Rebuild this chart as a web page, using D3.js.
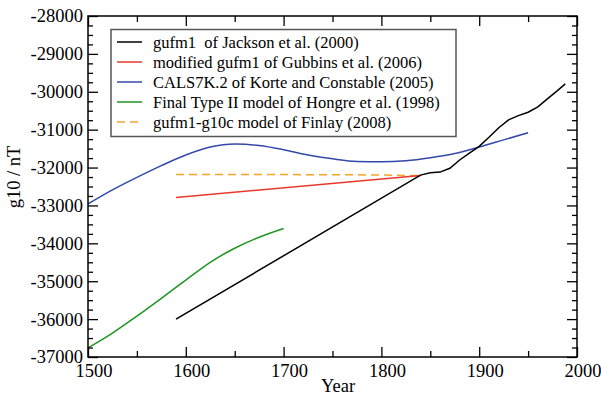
<!DOCTYPE html>
<html>
<head>
<meta charset="utf-8">
<script src="https://cdn.jsdelivr.net/npm/d3@7"></script>
<style>
  body { margin: 0; background: #fff; }
  svg text { font-family: "Liberation Serif", "Times New Roman", serif !important; }
</style>
</head>
<body>
<script>
// g10 estimates from several field models
var jacksonYears = [1590, 1840, 1850, 1860, 1870, 1880, 1890, 1900, 1910, 1920, 1930, 1940, 1950, 1960, 1970, 1980, 1988];
var jacksonG10 = [-36000, -32200, -32140, -32120, -32020, -31800, -31620, -31440, -31200, -30950, -30740, -30630, -30540, -30400, -30180, -29970, -29790];

var gubbinsYears = [1590, 1840];
var gubbinsG10 = [-32790, -32210];

var korteYears = [1500, 1525, 1550, 1575, 1600, 1625, 1650, 1675, 1700, 1725, 1750, 1775, 1800, 1825, 1850, 1875, 1900, 1925, 1950];
var korteG10 = [-32960, -32590, -32260, -31950, -31670, -31460, -31380, -31420, -31530, -31670, -31770, -31840, -31850, -31820, -31740, -31630, -31460, -31270, -31080];

var hongreYears = [1500, 1525, 1550, 1575, 1600, 1625, 1650, 1675, 1700];
var hongreG10 = [-36760, -36370, -35920, -35450, -34970, -34500, -34130, -33840, -33610];

var finlayYears = [1590, 1700, 1800, 1840];
var finlayG10 = [-32180, -32185, -32195, -32215];

var seriesNames = [
  "gufm1  of Jackson et al. (2000)",
  "modified gufm1 of Gubbins et al. (2006)",
  "CALS7K.2 of Korte and Constable (2005)",
  "Final Type II model of Hongre et al. (1998)",
  "gufm1-g10c model of Finlay (2008)"
];
var seriesColors = ["#000000", "#e8392b", "#3349aa", "#1f961f", "#f7a52a"];
var seriesDash = [null, null, null, null, "8,5"];
var seriesCurve = [d3.curveLinear, d3.curveLinear, d3.curveMonotoneX, d3.curveMonotoneX, d3.curveLinear];

var xTicks = [1500, 1600, 1700, 1800, 1900, 2000];
var yTicks = [-28000, -29000, -30000, -31000, -32000, -33000, -34000, -35000, -36000, -37000];

var W = 601, H = 395;
var margin = {left: 88, right: 24, top: 16, bottom: 38};
var serif = "'Liberation Serif', 'Times New Roman', serif";

var svg = d3.select("body").append("svg")
  .attr("width", W).attr("height", H)
  .attr("font-family", serif);

var x = d3.scaleLinear().domain([1500, 2000]).range([margin.left, W - margin.right]);
var y = d3.scaleLinear().domain([-37000, -28000]).range([H - margin.bottom, margin.top]);

var series = [
  d3.zip(jacksonYears, jacksonG10),
  d3.zip(gubbinsYears, gubbinsG10),
  d3.zip(korteYears, korteG10),
  d3.zip(hongreYears, hongreG10),
  d3.zip(finlayYears, finlayG10)
];

// draw order: blue, green, orange, red, black on top
[2, 3, 4, 1, 0].forEach(function(i) {
  var line = d3.line()
    .x(d => x(d[0]))
    .y(d => y(d[1]))
    .curve(seriesCurve[i]);
  svg.append("path")
    .datum(series[i])
    .attr("fill", "none")
    .attr("stroke", seriesColors[i])
    .attr("stroke-width", 1.5)
    .attr("stroke-dasharray", seriesDash[i])
    .attr("d", line);
});

// axes with inward ticks on all four sides
var minorX = d3.range(1550, 2000, 100);
var minorY = d3.range(-37000, -28000, 250).filter(v => v % 1000 != 0);

svg.append("g").attr("transform", "translate(0," + y(-37000) + ")")
  .call(d3.axisBottom(x).tickValues(xTicks).tickFormat(d3.format("d")).tickSize(-10).tickPadding(7))
  .selectAll("text").attr("dx", 5.5);
svg.append("g").attr("transform", "translate(0," + y(-37000) + ")")
  .call(d3.axisBottom(x).tickValues(minorX).tickFormat("").tickSize(-6));
svg.append("g").attr("transform", "translate(0," + y(-28000) + ")")
  .call(d3.axisTop(x).tickValues(xTicks).tickFormat("").tickSize(-10));
svg.append("g").attr("transform", "translate(0," + y(-28000) + ")")
  .call(d3.axisTop(x).tickValues(minorX).tickFormat("").tickSize(-6));

svg.append("g").attr("transform", "translate(" + x(1500) + ",0)")
  .call(d3.axisLeft(y).tickValues(yTicks).tickFormat(d => "-" + Math.abs(d)).tickSize(-10).tickPadding(5));
svg.append("g").attr("transform", "translate(" + x(1500) + ",0)")
  .call(d3.axisLeft(y).tickValues(minorY).tickFormat("").tickSize(-5));
svg.append("g").attr("transform", "translate(" + x(2000) + ",0)")
  .call(d3.axisRight(y).tickValues(yTicks).tickFormat("").tickSize(-10));
svg.append("g").attr("transform", "translate(" + x(2000) + ",0)")
  .call(d3.axisRight(y).tickValues(minorY).tickFormat("").tickSize(-5));

svg.selectAll("g").attr("font-family", serif);
svg.selectAll(".domain").remove();
svg.selectAll(".tick line").attr("stroke", "#000").attr("stroke-width", 1.3);
svg.selectAll(".tick text")
  .attr("fill", "#000")
  .style("font-size", "18.5px");

svg.append("rect")
  .attr("x", x(1500)).attr("y", y(-28000))
  .attr("width", x(2000) - x(1500)).attr("height", y(-37000) - y(-28000))
  .attr("fill", "none").attr("stroke", "#000").attr("stroke-width", 1.5);

// axis titles
svg.append("text")
  .attr("x", 338).attr("y", 391.5)
  .attr("text-anchor", "middle")
  .style("font-size", "18.5px")
  .text("Year");

svg.append("text")
  .attr("transform", "translate(19.5,177) rotate(-90)")
  .attr("text-anchor", "middle")
  .style("font-size", "18.5px")
  .text("g10 / nT");

// legend
var legend = svg.append("g");
legend.append("rect")
  .attr("x", 111).attr("y", 29.5).attr("width", 345).attr("height", 107)
  .attr("fill", "#fff").attr("stroke", "#555").attr("stroke-width", 1.5);

seriesNames.forEach(function(name, i) {
  var ly = 42 + i * 20;
  legend.append("line")
    .attr("x1", 117).attr("x2", 142).attr("y1", ly).attr("y2", ly)
    .attr("stroke", seriesColors[i]).attr("stroke-width", 1.5)
    .attr("stroke-dasharray", seriesDash[i]);
  legend.append("text")
    .attr("x", 153).attr("y", ly + 5.5)
    .attr("xml:space", "preserve")
    .style("font-size", "16.5px")
    .style("white-space", "pre")
    .text(name);
});
</script>
</body>
</html>
